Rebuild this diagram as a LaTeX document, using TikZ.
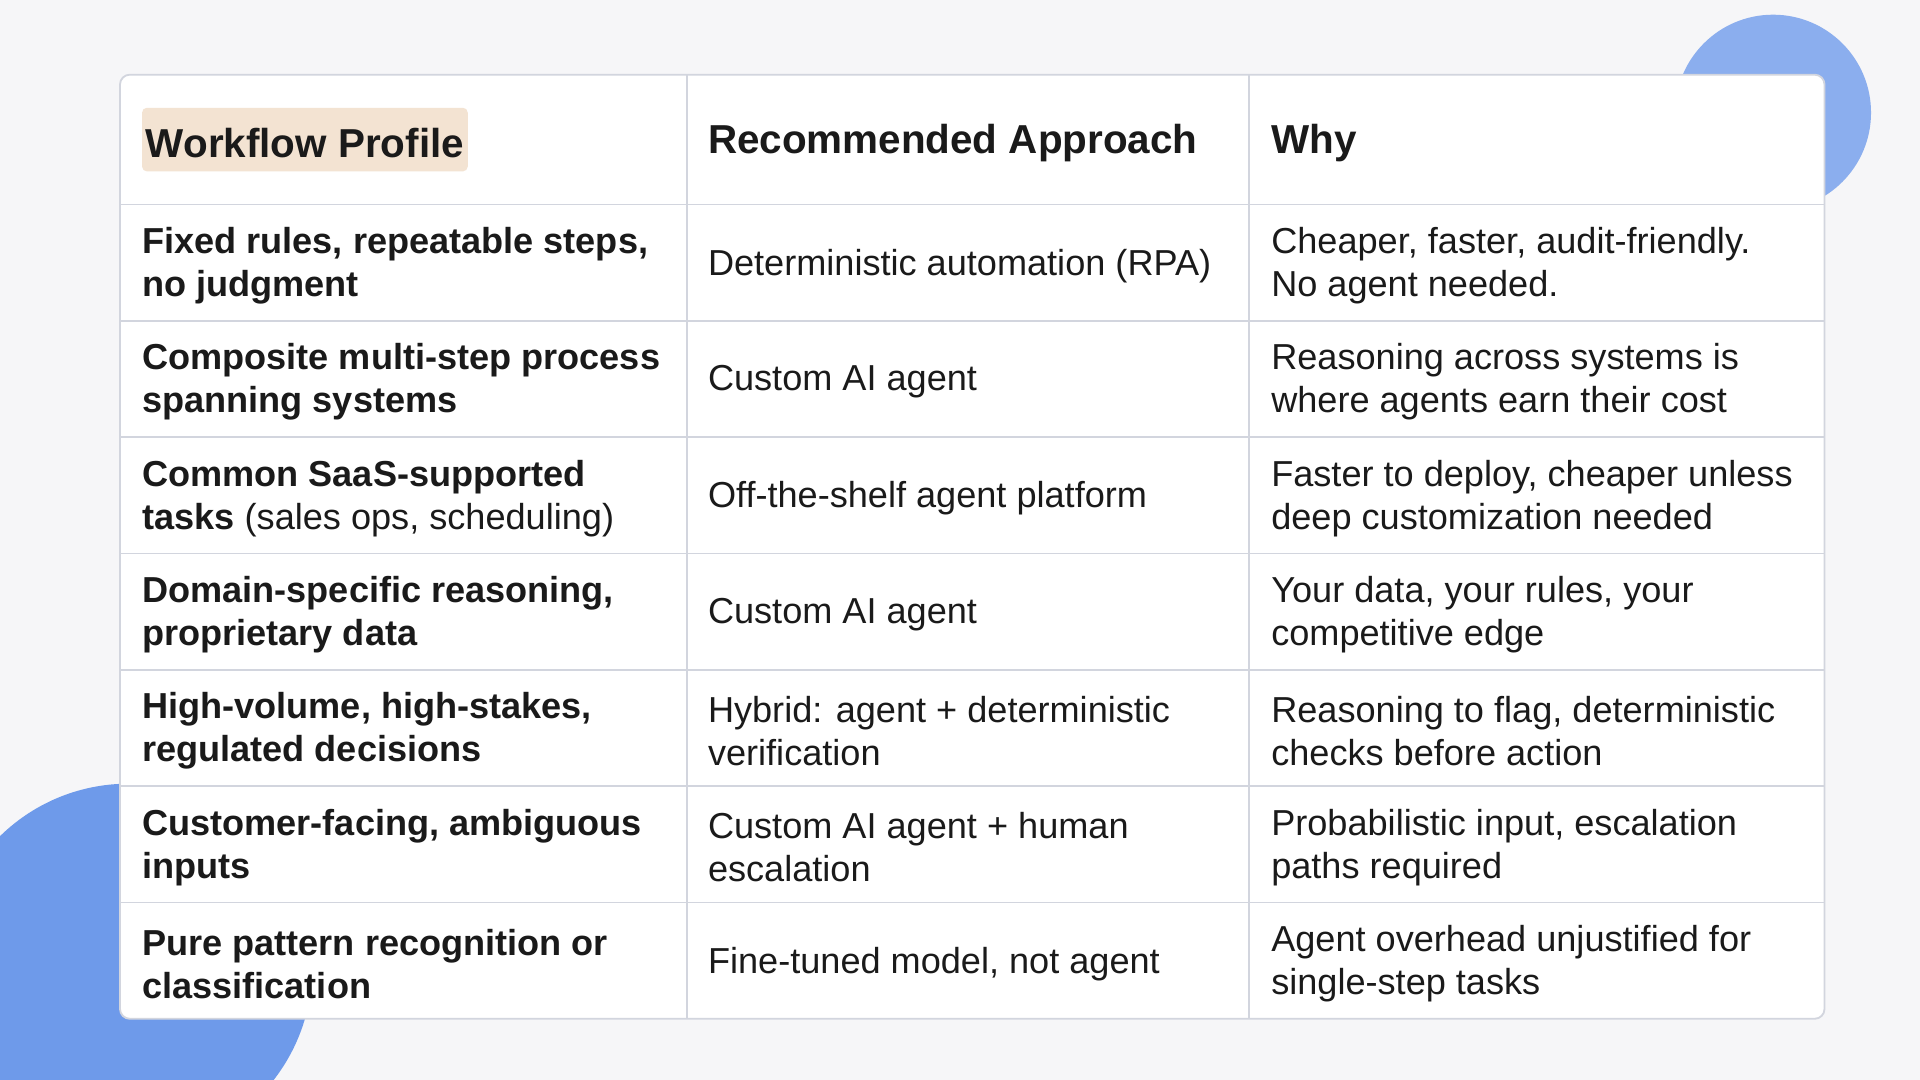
\documentclass[tikz,border=0pt]{standalone}
\usepackage{fontspec}
\setmainfont{Liberation Sans}
\usetikzlibrary{positioning}
\definecolor{bgpaper}{HTML}{F6F6F8}
\definecolor{blobblue}{HTML}{6E9AEA}
\definecolor{gridline}{HTML}{D2D5DE}
\definecolor{hilite}{HTML}{F3E3D2}
\definecolor{inkdark}{HTML}{1A1A1A}
\tikzset{
  cell/.style={anchor=west, align=left, inner sep=0pt, text=inkdark,
    font=\fontsize{29.5}{35}\selectfont},
  rowhead/.style={cell, font=\fontsize{29.5}{35}\selectfont\bfseries},
  colhead/.style={cell, font=\fontsize{33}{38}\selectfont\bfseries}
}
\begin{document}
\begin{tikzpicture}[x=1pt,y=-1pt]
    \useasboundingbox (0,0) rectangle (1568,882);
    \fill [bgpaper] (0,0) rectangle (1568,882);
    % blobs behind the table
    \fill [blobblue!80] (1448,92) circle (80);
    \fill [blobblue] (105,790) circle (150);
    % table frame
    \fill [white, draw=gridline, line width=1.5pt, rounded corners=8] (98,61) rectangle (1490,832);
    \foreach \y in {167,262,357,452,547,642,737}
    \draw [gridline, line width=1.5pt] (98,\y) -- (1490,\y);
    \foreach \x in {561,1020}
    \draw [gridline, line width=1.5pt] (\x,61) -- (\x,832);
    % header
    \fill [hilite, rounded corners=4] (116,88) rectangle (382,140);
    \node [colhead] (hprofile) at (119,117) {Workflow Profile};
    \node [colhead] (happroach) at (578,117) {Recommended Approach};
    \node [colhead] (hwhy) at (1038,117) {Why};
    % rows
    \node [rowhead] (p1) at (116,217) {Fixed rules, repeatable steps,\\no judgment};
    \node [cell] (a1) at (578,217) {Deterministic automation (RPA)};
    \node [cell] (w1) at (1038,217) {Cheaper, faster, audit-friendly.\\No agent needed.};
    \node [rowhead] (p2) at (116,312) {Composite multi-step process\\spanning systems};
    \node [cell] (a2) at (578,312) {Custom AI agent};
    \node [cell] (w2) at (1038,312) {Reasoning across systems is\\where agents earn their cost};
    \node [cell] (p3) at (116,407) {\textbf{Common SaaS-supported}\\\textbf{tasks} (sales ops, scheduling)};
    \node [cell] (a3) at (578,407) {Off-the-shelf agent platform};
    \node [cell] (w3) at (1038,407) {Faster to deploy, cheaper unless\\deep customization needed};
    \node [rowhead] (p4) at (116,502) {Domain-specific reasoning,\\proprietary data};
    \node [cell] (a4) at (578,502) {Custom AI agent};
    \node [cell] (w4) at (1038,502) {Your data, your rules, your\\competitive edge};
    \node [rowhead] (p5) at (116,597) {High-volume, high-stakes,\\regulated decisions};
    \node [cell] (a5) at (578,597) {Hybrid: agent + deterministic\\verification};
    \node [cell] (w5) at (1038,597) {Reasoning to flag, deterministic\\checks before action};
    \node [rowhead] (p6) at (116,692) {Customer-facing, ambiguous\\inputs};
    \node [cell] (a6) at (578,692) {Custom AI agent + human\\escalation};
    \node [cell] (w6) at (1038,692) {Probabilistic input, escalation\\paths required};
    \node [rowhead] (p7) at (116,787) {Pure pattern recognition or\\classification};
    \node [cell] (a7) at (578,787) {Fine-tuned model, not agent};
    \node [cell] (w7) at (1038,787) {Agent overhead unjustified for\\single-step tasks};
\end{tikzpicture}
\end{document}
